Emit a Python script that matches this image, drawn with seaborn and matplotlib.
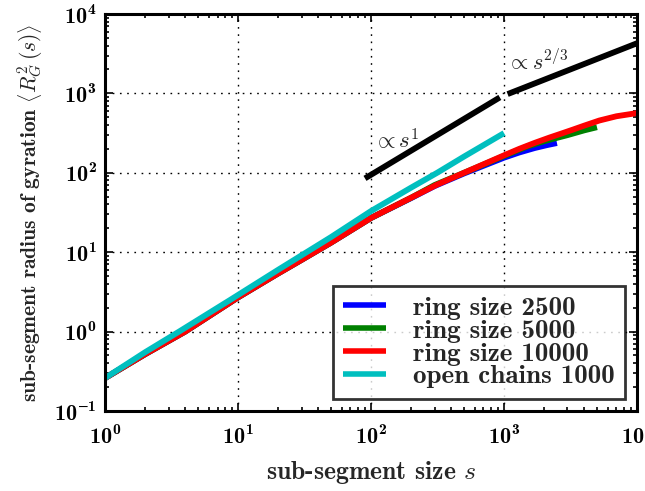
import numpy as np
import pandas as pd
import matplotlib
matplotlib.use("Agg")
import matplotlib.pyplot as plt
from matplotlib.ticker import LogLocator, FuncFormatter, NullFormatter
import seaborn as sns

# sub-segment sizes and mean squared radius of gyration per system
ring2500_s = [1, 2, 4, 10, 20, 30, 50, 100, 200, 300, 500, 1000, 1300, 1700, 2100, 2500]
ring2500_rg = [0.26, 0.52, 1.0, 2.7, 5.4, 8.0, 13.2, 27, 48, 68, 98, 155, 180, 205, 223, 237]

ring5000_s = [1, 2, 4, 10, 20, 30, 50, 100, 200, 300, 500, 1000, 1500, 2000, 3000, 4000, 5000]
ring5000_rg = [0.26, 0.52, 1.0, 2.7, 5.4, 8.0, 13.2, 27, 48.5, 70, 100, 163, 215, 250, 298, 342, 375]

ring10000_s = [1, 2, 4, 10, 20, 30, 50, 100, 200, 314, 500, 1000, 1300, 1700, 2200, 2700,
               3300, 4000, 5200, 7000, 10000]
ring10000_rg = [0.26, 0.52, 1.0, 2.7, 5.4, 8.0, 13.2, 27, 48.5, 71, 100, 166, 200, 238, 278, 312,
                350, 392, 455, 515, 565]

open1000_s = [1, 2, 3.6, 8.7, 20, 50, 100, 200, 314, 500, 1000]
open1000_rg = [0.26, 0.55, 1.0, 2.5, 6.0, 15.5, 33, 65, 100, 160, 316]

# power-law guides (end points)
guide1_s = [90, 930]
guide1_rg = [85, 890]
guide23_s = [1064, 10000]
guide23_rg = [980, 4280]

labels = ["ring size 2500", "ring size 5000", "ring size 10000", "open chains 1000"]
colors = ["#0000ff", "#008000", "#ff0000", "#00bfbf"]

frames = []
for lab, s, rg in zip(labels,
                      [ring2500_s, ring5000_s, ring10000_s, open1000_s],
                      [ring2500_rg, ring5000_rg, ring10000_rg, open1000_rg]):
    frames.append(pd.DataFrame({"s": s, "rg": rg, "system": lab}))
df = pd.concat(frames, ignore_index=True)

sns.set_style("ticks")
plt.rcParams["mathtext.fontset"] = "cm"
plt.rcParams["font.family"] = ["cmb10", "DejaVu Serif"]
plt.rcParams["axes.unicode_minus"] = False

fig = plt.figure(figsize=(6.45, 4.91), dpi=100)
ax = fig.add_axes([0.163, 0.163, 0.8246, 0.8085])

lw = 4.2
for lab, col in zip(labels, colors):
    sub = df[df["system"] == lab]
    sns.lineplot(data=sub, x="s", y="rg", color=col, linewidth=lw, label=lab,
                 ax=ax, sort=False, estimator=None, solid_capstyle="butt")

sns.lineplot(x=guide1_s, y=guide1_rg, color="black", linewidth=lw, ax=ax,
             legend=False, estimator=None, solid_capstyle="butt")
sns.lineplot(x=guide23_s, y=guide23_rg, color="black", linewidth=lw, ax=ax,
             legend=False, estimator=None, solid_capstyle="butt")

ax.set_xscale("log")
ax.set_yscale("log")
ax.set_xlim(1, 1e4)
ax.set_ylim(0.1, 1e4)

ax.text(104, 205, r"$\propto s^1$", fontsize=16.5, ha="left", va="baseline")
ax.text(1060, 1950, r"$\propto s^{2/3}$", fontsize=16, ha="left", va="baseline")

def fmt(v, pos):
    e = int(round(np.log10(v)))
    return r"$\mathregular{10^{%d}}$" % e

for axis in (ax.xaxis, ax.yaxis):
    axis.set_major_locator(LogLocator(base=10, numticks=10))
    axis.set_minor_locator(LogLocator(base=10, subs=np.arange(2, 10), numticks=20))
    axis.set_major_formatter(FuncFormatter(fmt))
    axis.set_minor_formatter(NullFormatter())

ax.tick_params(which="both", direction="in", top=True, right=True, width=1.2,
               labelsize=16, colors="black")
ax.tick_params(which="major", length=6)
ax.tick_params(axis="x", which="major", pad=10)
ax.tick_params(axis="y", which="major", pad=6)
ax.tick_params(which="minor", length=3)

ax.grid(True, which="major", color="black", linestyle=(0, (1.2, 4)), linewidth=1.0)
for sp in ax.spines.values():
    sp.set_linewidth(2.2)
    sp.set_color("black")

ax.set_xlabel(r"sub-segment size $s$", fontsize=18.5, labelpad=8)
ax.set_ylabel(r"sub-segment radius of gyration $\left\langle R_G^2\,(s)\right\rangle$",
              fontsize=15.5, labelpad=6)

leg = ax.legend(loc="lower right", fontsize=19.5, frameon=True, fancybox=False,
                handlelength=1.58, handletextpad=1.0, labelspacing=-0.04,
                borderaxespad=0.45, borderpad=0.38)
leg.get_frame().set_edgecolor("black")
leg.get_frame().set_linewidth(2.0)
for h in leg.get_lines():
    h.set_linewidth(4)

fig.savefig("out.png", dpi=100)
